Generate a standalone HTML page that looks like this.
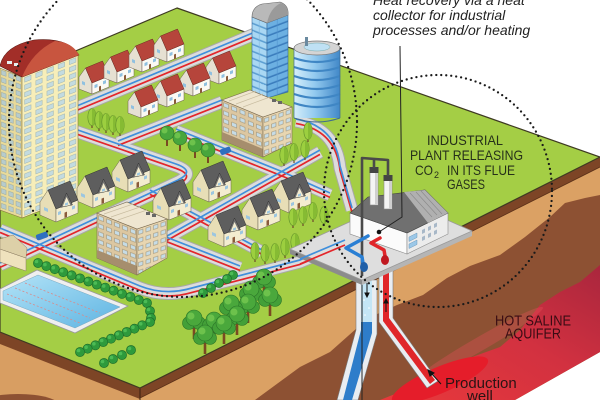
<!DOCTYPE html>
<html><head><meta charset="utf-8"><title>Geothermal</title>
<style>html,body{margin:0;padding:0;background:#fff;overflow:hidden}svg{display:block}</style>
</head><body>
<svg xmlns="http://www.w3.org/2000/svg" width="600" height="400" viewBox="0 0 600 400">
<defs>
<linearGradient id="aq" x1="0" y1="1" x2="1" y2="0">
<stop offset="0" stop-color="#e9393b"/><stop offset="0.55" stop-color="#d23140"/><stop offset="1" stop-color="#a9263d"/>
</linearGradient>
<linearGradient id="cyl" x1="0" y1="0" x2="1" y2="0">
<stop offset="0" stop-color="#d6eefa"/><stop offset="0.45" stop-color="#93caef"/><stop offset="1" stop-color="#4188c8"/>
</linearGradient>
<linearGradient id="pool" x1="0" y1="0" x2="1" y2="1">
<stop offset="0" stop-color="#b3e3f7"/><stop offset="1" stop-color="#5eb4e2"/>
</linearGradient>
<pattern id="winF" width="11.2" height="7.4" patternUnits="userSpaceOnUse" patternTransform="matrix(1,-0.39,0,1,22,77)">
<rect width="11.2" height="7.4" fill="#f7eeb9"/><rect x="2.6" y="1.6" width="6.4" height="4.6" fill="#c3dbe0" stroke="#8ea6a6" stroke-width="0.4"/>
</pattern>
<pattern id="winS" width="7.3" height="7.4" patternUnits="userSpaceOnUse" patternTransform="matrix(1,0.36,0,1,0,68)">
<rect width="7.3" height="7.4" fill="#e8da9a"/><rect x="1.4" y="1.6" width="4.6" height="4.6" fill="#b7cccc" stroke="#8a9c9c" stroke-width="0.4"/>
</pattern>
<pattern id="gtL" width="15" height="7" patternUnits="userSpaceOnUse" patternTransform="matrix(1,0.4,0,1,252,17)">
<rect width="15" height="7" fill="#a9d7f3"/><rect y="5.3" width="15" height="1.7" fill="#5d9fd2"/><rect x="7" width="0.6" height="7" fill="#7fb8e2"/>
</pattern>
<pattern id="gtR" width="21" height="7" patternUnits="userSpaceOnUse" patternTransform="matrix(1,-0.38,0,1,267,23)">
<rect width="21" height="7" fill="#6cb0e2"/><rect y="5.3" width="21" height="1.7" fill="#3b7dbd"/><rect x="10" width="0.6" height="7" fill="#4f92cf"/>
</pattern>
<pattern id="o1L" width="8.2" height="8" patternUnits="userSpaceOnUse" patternTransform="matrix(1,0.41,0,1,222,100)">
<rect width="8.2" height="8" fill="#dcc7a1"/><rect x="1.6" y="2" width="5" height="4" fill="#c6dce6" stroke="#8a7858" stroke-width="0.4"/>
</pattern>
<pattern id="o1R" width="7.2" height="8" patternUnits="userSpaceOnUse" patternTransform="matrix(1,-0.345,0,1,263,117)">
<rect width="7.2" height="8" fill="#e8d6b1"/><rect x="1.4" y="2" width="4.4" height="4" fill="#c6dce6" stroke="#8a7858" stroke-width="0.4"/>
</pattern>
<pattern id="o2L" width="8" height="8" patternUnits="userSpaceOnUse" patternTransform="matrix(1,0.4,0,1,97,213)">
<rect width="8" height="8" fill="#dcc7a1"/><rect x="1.5" y="2" width="5" height="4" fill="#c6dce6" stroke="#8a7858" stroke-width="0.4"/>
</pattern>
<pattern id="o2R" width="7.5" height="8" patternUnits="userSpaceOnUse" patternTransform="matrix(1,-0.333,0,1,137,229)">
<rect width="7.5" height="8" fill="#e8d6b1"/><rect x="1.4" y="2" width="4.6" height="4" fill="#c6dce6" stroke="#8a7858" stroke-width="0.4"/>
</pattern>

<path id="r1" d="M72,110 L255,34"/>
<path id="r2" d="M72,130 L176,166 Q196,173 178,182 L0,265"/>
<path id="r3" d="M0,230 L140,288 Q165,298 192,290 L300,262 L345,243"/>
<path id="r4" d="M118,143 L222,102"/>
<path id="r5" d="M160,242 L320,152"/>
<path id="r5b" d="M296,121 Q336,128 340,168 L352,210"/>
<path id="r6" d="M150,192 L262,252"/>
<path id="r7" d="M176,131 L283,174 L330,195"/>
<path id="r8" d="M138,228 L240,268"/>

<g id="rh">
<rect x="20" y="3" width="2.2" height="5" fill="#8a3a30"/>
<polygon points="0,17 6.5,8 13,23 13,34 0,29" fill="#e6e0d2" stroke="#6b5a50" stroke-width=".5"/>
<polygon points="13,23 30,16 30,27 13,34" fill="#fbf9f3" stroke="#6b5a50" stroke-width=".5"/>
<polygon points="6.5,8 23.5,1 30,16 13,23" fill="#b6453b" stroke="#6b2a22" stroke-width=".5"/>
<polygon points="15.5,25 18.5,23.8 18.5,27 15.5,28.2" fill="#8fc0e0"/>
<polygon points="24,21.2 27,20 27,23.2 24,24.4" fill="#8fc0e0"/>
<polygon points="20,26.5 22,25.7 22,30.5 20,31.3" fill="#8a5a3a"/>
<polygon points="3,21 6,22.3 6,25.5 3,24.2" fill="#8fc0e0"/>
</g>
<g id="gh">
<polygon points="0,20 8,8 16,27 16,40 0,33" fill="#e8deb6" stroke="#6a6450" stroke-width=".5"/>
<polygon points="16,27 38,18 38,31 16,40" fill="#f3ecd0" stroke="#6a6450" stroke-width=".5"/>
<polygon points="8,8 30,-1 38,18 16,27" fill="#5e5e5e" stroke="#333" stroke-width=".5"/>
<polygon points="20.5,25.4 26.5,11 32.5,22.9" fill="#6e6e6e" stroke="#333" stroke-width=".5"/>
<polygon points="22.5,24.6 26.5,15 30.5,23.1" fill="#f3ecd0"/>
<polygon points="25,21.4 28,20.2 28,22.6 25,23.8" fill="#9cc6e0"/>
<polygon points="18,30 21,28.8 21,32 18,33.2" fill="#9cc6e0"/>
<polygon points="32,24.4 35,23.2 35,26.4 32,27.6" fill="#9cc6e0"/>
<polygon points="4,25 8,26.7 8,30 4,28.3" fill="#9cc6e0"/>
<polygon points="24.5,30.6 27,29.6 27,35 24.5,36" fill="#8a5a3a"/>
</g>
<g id="ct"><line x1="0" y1="0" x2="0" y2="-4" stroke="#6b4a2a" stroke-width="1.2"/><ellipse cx="0" cy="-11" rx="4.2" ry="8.5" fill="#9ccf3f" stroke="#5f8f2a" stroke-width=".6"/><path d="M0,-19.5 A4.2,8.5 0 0 1 0,-2.5 Z" fill="#86bb33"/></g>
<g id="rt"><rect x="-1" y="-8" width="2" height="8" fill="#7a4a22"/><circle cx="0" cy="-13" r="7" fill="#48a63c" stroke="#2a7428" stroke-width=".6"/><circle cx="-2.5" cy="-15.5" r="3" fill="#6dc24c"/></g>
<g id="bt"><rect x="-1.3" y="-12" width="2.6" height="12" fill="#7a4a22"/><circle cx="-5" cy="-16" r="6.5" fill="#43a038" stroke="#2a7428" stroke-width=".6"/><circle cx="5" cy="-16" r="6.5" fill="#43a038" stroke="#2a7428" stroke-width=".6"/><circle cx="0" cy="-21" r="8" fill="#4aa83c" stroke="#2a7428" stroke-width=".6"/><circle cx="-3" cy="-23" r="3.5" fill="#6dc24c"/></g>
<g id="bu"><circle r="4.6" fill="#2e9a3c" stroke="#1c6a2a" stroke-width=".6"/><circle cx="-1.5" cy="-1.5" r="1.8" fill="#4cbb55"/></g>
</defs>

<rect width="600" height="400" fill="#ffffff"/>

<!-- soil: left face -->
<polygon points="0,332 140,388 140,400 0,400" fill="#d89e62"/>
<ellipse cx="18" cy="406" rx="42" ry="12" fill="#8d5133"/>
<polygon points="0,332 140,388 140,399 0,344" fill="#7d4526"/>
<!-- soil: right face -->
<polygon points="140,388 600,157 600,352 515,400 140,400" fill="#dba164"/>
<polygon points="255,400 300,367 330,352 357,328 375,315 397,305 423,295 447,278 470,266 500,255 525,237 550,217 565,203 585,198 600,195 600,352 515,400" fill="#8d5133"/>
<polygon points="380,400 400,392 422,382 445,368 475,356 500,347 520,330 540,305 560,292 580,282 600,265 600,352 515,400" fill="url(#aq)"/>
<ellipse cx="478" cy="345" rx="75" ry="7" transform="rotate(-30 478 345)" fill="#e8505a" opacity=".35"/>
<ellipse cx="440" cy="380" rx="52" ry="13" transform="rotate(-23 440 380)" fill="#e51d2a"/>
<polygon points="140,388 600,157 600,167 140,398" fill="#7d4526"/>
<line x1="140" y1="388" x2="140" y2="400" stroke="#3a2010" stroke-width="1"/>
<line x1="140" y1="398" x2="600" y2="167" stroke="#5a3018" stroke-width=".8"/>

<!-- green top -->
<polygon points="0,83 177,8 600,157 140,388 0,332" fill="#a4ce45" stroke="#3e3a22" stroke-width="1.2" stroke-linejoin="round"/>

<!-- roads -->
<g fill="none" stroke-linejoin="round">
<g stroke="#a8a8a8" stroke-width="13"><use href="#r1"/><use href="#r2"/><use href="#r3"/><use href="#r4"/><use href="#r5"/><use href="#r5b"/><use href="#r6"/><use href="#r7"/><use href="#r8"/></g>
<g stroke="#dcdcdc" stroke-width="11"><use href="#r1"/><use href="#r2"/><use href="#r3"/><use href="#r4"/><use href="#r5"/><use href="#r5b"/><use href="#r6"/><use href="#r7"/><use href="#r8"/></g>
<g stroke="#e3262b" stroke-width="1.7" transform="translate(0,2.4)"><use href="#r1"/><use href="#r2"/><use href="#r3"/><use href="#r4"/><use href="#r5"/><use href="#r5b"/><use href="#r6"/><use href="#r7"/><use href="#r8"/></g>
<g stroke="#3f8fdc" stroke-width="1.7" transform="translate(0,-2)"><use href="#r1"/><use href="#r2"/><use href="#r3"/><use href="#r4"/><use href="#r5"/><use href="#r5b"/><use href="#r6"/><use href="#r7"/><use href="#r8"/></g>
</g>

<!-- pool -->
<polygon points="0,289 37,270 128,306 75,333 0,303" fill="#efefef" stroke="#9a9a9a" stroke-width=".8"/>
<polygon points="3,291 38,275 120,307 75,328 3,300" fill="url(#pool)" stroke="#7aa8c0" stroke-width=".5"/>
<g stroke="#d98a8a" stroke-width=".8" stroke-dasharray="2 2">
<line x1="25" y1="283" x2="100" y2="313"/><line x1="15" y1="288" x2="90" y2="318"/><line x1="7" y1="294" x2="80" y2="323"/>
</g>

<!-- red roof houses -->
<use href="#rh" x="79" y="60"/><use href="#rh" x="104" y="49"/><use href="#rh" x="129" y="38"/><use href="#rh" x="154" y="28"/>
<use href="#rh" x="206" y="50"/><use href="#rh" x="180" y="62"/><use href="#rh" x="154" y="73"/><use href="#rh" x="128" y="84"/>

<!-- glass tower -->
<polygon points="252,17 267,23 267,98 252,92" fill="url(#gtL)" stroke="#3a6a9a" stroke-width=".6"/>
<polygon points="267,23 288,15 288,92 267,98" fill="url(#gtR)" stroke="#3a6a9a" stroke-width=".6"/>
<path d="M252,17 Q252,7 262,4 L280,2 Q289,5 288,15 L267,23 Z" fill="#b9b9b9" stroke="#666" stroke-width=".6"/>
<path d="M267,23 L288,15 Q289,6 281,3 Q270,8 267,23 Z" fill="#9a9a9a"/>

<!-- cylinder -->
<rect x="294" y="48" width="46" height="70" fill="url(#cyl)"/>
<g fill="none" stroke="#3f86c4" stroke-width="2.2">
<path d="M294,58 Q317,66 340,58"/><path d="M294,67 Q317,75 340,67"/><path d="M294,76 Q317,84 340,76"/><path d="M294,85 Q317,93 340,85"/><path d="M294,94 Q317,102 340,94"/><path d="M294,103 Q317,111 340,103"/>
</g>
<path d="M294,118 Q317,126 340,118" fill="none" stroke="#3f6a90" stroke-width="1"/>
<line x1="294" y1="48" x2="294" y2="118" stroke="#3f6a90" stroke-width=".7"/><line x1="340" y1="48" x2="340" y2="118" stroke="#3f6a90" stroke-width=".7"/>
<ellipse cx="317" cy="48" rx="23" ry="7" fill="#d4d4d4" stroke="#777" stroke-width=".7"/>
<ellipse cx="317" cy="47" rx="13" ry="4" fill="#bfe1f4" stroke="#7aa" stroke-width=".5"/>
<rect x="305" y="37" width="3" height="9" fill="#6a8aa0"/>

<!-- cone tree row -->
<use href="#ct" x="92" y="128"/><use href="#ct" x="99" y="131"/><use href="#ct" x="106" y="133"/><use href="#ct" x="113" y="135"/><use href="#ct" x="120" y="136"/>

<!-- office 1 -->
<polygon points="222,100 263,117 263,157 222,140" fill="url(#o1L)" stroke="#7a6a50" stroke-width=".6"/>
<polygon points="222,132 263,149 263,157 222,140" fill="#a68e6d"/>
<polygon points="263,117 292,107 292,143 263,157" fill="url(#o1R)" stroke="#7a6a50" stroke-width=".6"/>
<polygon points="222,100 250,90 292,107 263,117" fill="#efe6d0" stroke="#7a6a50" stroke-width=".6"/>
<g stroke="#c8bca0" stroke-width=".7"><line x1="229" y1="101" x2="256" y2="91"/><line x1="236" y1="104" x2="263" y2="94"/><line x1="243" y1="107" x2="270" y2="97"/></g>
<rect x="272" y="99" width="4" height="3" fill="#666"/><rect x="278" y="101" width="4" height="3" fill="#666"/>
<use href="#rt" x="167" y="146"/><use href="#rt" x="180" y="151"/><use href="#rt" x="195" y="158"/><use href="#rt" x="208" y="163"/>
<use href="#ct" x="284" y="166"/><use href="#ct" x="294" y="163"/><use href="#ct" x="305" y="160"/>
<use href="#ct" x="308" y="142"/>
<!-- car -->
<rect x="220" y="148" width="11" height="6" rx="2" fill="#2e6fc0" transform="rotate(-20 225 151)"/>

<!-- apartment building -->
<polygon points="0,68 22,77 22,218 0,210" fill="url(#winS)" stroke="#8a7a40" stroke-width=".6"/>
<polygon points="22,77 78,55 78,196 22,218" fill="url(#winF)" stroke="#8a7a40" stroke-width=".6"/>
<path d="M0,66 Q4,46 34,40 Q68,37 79,55 L22,77 Z" fill="#a22e28" stroke="#5a1a14" stroke-width=".6"/>
<path d="M22,77 L79,55 Q72,42 55,41 Q32,52 22,77 Z" fill="#c8553f"/>
<rect x="7" y="61" width="5" height="3" fill="#e6eef0"/><rect x="14" y="63" width="4" height="3" fill="#e6eef0"/>

<!-- grey houses -->
<use href="#gh" x="112" y="152"/><use href="#gh" x="193" y="162"/><use href="#gh" x="77" y="168"/><use href="#gh" x="273" y="173"/>
<use href="#gh" x="153" y="180"/><use href="#gh" x="40" y="182"/><use href="#gh" x="242" y="190"/><use href="#gh" x="208" y="207"/>

<!-- office 2 -->
<polygon points="97,213 137,229 137,275 97,258" fill="url(#o2L)" stroke="#7a6a50" stroke-width=".6"/>
<polygon points="97,250 137,266 137,275 97,258" fill="#a68e6d"/>
<polygon points="137,229 167,219 167,258 137,275" fill="url(#o2R)" stroke="#7a6a50" stroke-width=".6"/>
<polygon points="97,213 127,202 167,219 137,229" fill="#efe6d0" stroke="#7a6a50" stroke-width=".6"/>
<g stroke="#c8bca0" stroke-width=".7"><line x1="104" y1="214" x2="133" y2="204"/><line x1="111" y1="217" x2="140" y2="207"/><line x1="118" y1="220" x2="147" y2="210"/></g>
<rect x="146" y="212" width="4" height="3" fill="#666"/><rect x="152" y="214" width="4" height="3" fill="#666"/>

<!-- small left building -->
<polygon points="0,249 26,258 26,271 0,262" fill="#efe2bd" stroke="#8a7a60" stroke-width=".5"/>
<polygon points="0,239 13,235 27,248 26,258 0,249" fill="#ddd0a8" stroke="#8a7a60" stroke-width=".5"/>
<rect x="36" y="233" width="12" height="6" rx="2" fill="#2e6fc0" transform="rotate(-20 42 236)"/>

<!-- cone trees near factory -->
<use href="#ct" x="255" y="262"/><use href="#ct" x="265" y="264"/><use href="#ct" x="275" y="263"/><use href="#ct" x="285" y="258"/><use href="#ct" x="295" y="253"/>
<use href="#ct" x="293" y="228"/><use href="#ct" x="303" y="226"/><use href="#ct" x="313" y="222"/><use href="#ct" x="324" y="226"/>

<!-- bushes -->
<g>
<use href="#bu" x="38" y="263"/><use href="#bu" x="46.4" y="266.1"/><use href="#bu" x="54.8" y="269.2"/><use href="#bu" x="63.2" y="272.2"/><use href="#bu" x="71.6" y="275.3"/><use href="#bu" x="80" y="278.4"/><use href="#bu" x="88.4" y="281.5"/><use href="#bu" x="96.8" y="284.6"/><use href="#bu" x="105.2" y="287.6"/><use href="#bu" x="113.6" y="290.7"/><use href="#bu" x="122" y="293.8"/><use href="#bu" x="130.4" y="296.9"/><use href="#bu" x="138.8" y="300"/><use href="#bu" x="147" y="303"/>
<use href="#bu" x="150" y="311"/><use href="#bu" x="151" y="318"/>
<use href="#bu" x="150" y="322"/><use href="#bu" x="142.2" y="325.3"/><use href="#bu" x="134.4" y="328.7"/><use href="#bu" x="126.6" y="332"/><use href="#bu" x="118.8" y="335.3"/><use href="#bu" x="111" y="338.7"/><use href="#bu" x="103.2" y="342"/><use href="#bu" x="95.4" y="345.3"/><use href="#bu" x="87.6" y="348.7"/><use href="#bu" x="80" y="352"/>
<use href="#bu" x="131" y="350"/><use href="#bu" x="122" y="355"/><use href="#bu" x="113" y="359"/><use href="#bu" x="104" y="363"/>
<use href="#bu" x="233" y="275"/><use href="#bu" x="227" y="279"/><use href="#bu" x="219" y="283"/><use href="#bu" x="211" y="288"/><use href="#bu" x="203" y="293"/>
</g>

<!-- big trees -->
<use href="#bt" x="264" y="298"/><use href="#bt" x="251" y="310"/><use href="#bt" x="270" y="316"/><use href="#bt" x="248" y="323"/><use href="#bt" x="231" y="324"/>
<use href="#bt" x="237" y="335"/><use href="#bt" x="194" y="339"/><use href="#bt" x="214" y="341"/><use href="#bt" x="224" y="344"/><use href="#bt" x="205" y="354"/>

<!-- wells -->
<path d="M356,280 L356,330 L337,400 L358,400 L377,334 L377,280 Z" fill="#e9edf1" stroke="#7a7a7a" stroke-width=".6"/>
<path d="M361,280 L361,330 L343,400 L352,400 L372,333 L372,280 Z" fill="#2e7dca"/>
<polygon points="361,280 372,280 372,322 361,322" fill="#c4e6f6"/>
<g fill="#fff"><circle cx="364" cy="300" r=".8"/><circle cx="369" cy="308" r=".8"/><circle cx="365" cy="315" r=".8"/><circle cx="369" cy="292" r=".8"/></g>
<path d="M379,262 L379,322 L427,388 L438,381 L393,318 L393,262 Z" fill="#e9edf1" stroke="#7a7a7a" stroke-width=".6"/>
<path d="M383,262 L383,321 L430,384 L435,380 L389,318 L389,262 Z" fill="#e0262a"/>
<line x1="362" y1="278" x2="362" y2="400" stroke="#222" stroke-width="1"/>
<g stroke="#111" stroke-width="1" fill="#111">
<line x1="367" y1="283" x2="367" y2="294"/><polygon points="365,293 369,293 367,297"/>
<line x1="386" y1="312" x2="386" y2="302"/><polygon points="384,303 388,303 386,299"/>
<line x1="441" y1="384" x2="431" y2="373"/><polygon points="428,370 434,373 430,376"/>
</g>

<!-- platform -->
<polygon points="290,249 362,280 362,285 290,254" fill="#8c8c8c"/>
<polygon points="362,280 472,231 472,236 362,285" fill="#b5b5b5"/>
<polygon points="290,249 362,280 472,231 400,199" fill="#dedede" stroke="#9a9a9a" stroke-width=".8"/>
<g fill="none" stroke-width="1.7"><path d="M300,264 L345,245" stroke="#e3262b"/><path d="M300,259 L345,240" stroke="#3f8fdc"/></g>

<!-- factory -->
<polygon points="350,213 407,233 407,254 350,234" fill="#fbfbfb" stroke="#8a8a8a" stroke-width=".6"/>
<polygon points="407,233 448,213 448,234 407,254" fill="#ececec" stroke="#8a8a8a" stroke-width=".6"/>
<polygon points="350,213 368,197 425,190 448,213 407,233" fill="#707070" stroke="#444" stroke-width=".6"/>
<polygon points="404,192 425,190 448,213 428,223" fill="#b0b0b0"/>
<g stroke="#8a8a8a" stroke-width=".6"><line x1="410" y1="193" x2="432" y2="217"/><line x1="416" y1="192" x2="437" y2="215"/><line x1="421" y1="191" x2="442" y2="214"/></g>
<polygon points="409,237 417,233 417,237.5 409,241.5" fill="#9cc8e8" stroke="#5a8ab0" stroke-width=".4"/>
<polygon points="409,244 417,240 417,244.5 409,248.5" fill="#9cc8e8" stroke="#5a8ab0" stroke-width=".4"/>
<g fill="#a8b8c8"><polygon points="422,230 425,228.5 425,232.5 422,234"/><polygon points="428,227 431,225.5 431,229.5 428,231"/><polygon points="434,224 437,222.5 437,226.5 434,228"/><polygon points="422,237 425,235.5 425,239.5 422,241"/><polygon points="428,234 431,232.5 431,236.5 428,238"/><polygon points="434,231 437,229.5 437,233.5 434,235"/></g>
<!-- chimneys -->
<rect x="370" y="171" width="8" height="34" fill="#f4f4f4" stroke="#888" stroke-width=".6"/>
<rect x="375" y="171" width="3" height="34" fill="#cfcfcf"/>
<rect x="369.5" y="167" width="9" height="6" fill="#444"/>
<rect x="384" y="179" width="8" height="30" fill="#f4f4f4" stroke="#888" stroke-width=".6"/>
<rect x="389" y="179" width="3" height="30" fill="#cfcfcf"/>
<rect x="383.5" y="175" width="9" height="6" fill="#444"/>
<g fill="none" stroke="#4a4a4a" stroke-width="2.6" stroke-linejoin="round"><path d="M362,276 L362,158 L388,160 L388,176"/><path d="M374,158.5 L374,168"/></g>
<!-- platform pipes -->
<g fill="none" stroke-width="3.5" stroke-linejoin="round" stroke-linecap="round">
<path d="M368,236 L346,248 L362,257 L363,263" stroke="#2a7fd4"/>
<path d="M380,238 L371,243 L384,250 L385,256" stroke="#e0262a"/>
</g>
<ellipse cx="364" cy="267" rx="4" ry="5" fill="#1f5fa8"/>
<ellipse cx="385" cy="260" rx="4" ry="5" fill="#c01820"/>

<!-- dotted circles -->
<g fill="none" stroke="#1a1a1a" stroke-width="2.3" stroke-linecap="round" stroke-dasharray="0 5">
<ellipse cx="183" cy="122" rx="174" ry="175"/>
<ellipse cx="438" cy="191" rx="114" ry="116"/>
</g>

<!-- label leader -->
<path d="M400,46 L402,217 L379,232" fill="none" stroke="#222" stroke-width="1"/>
<circle cx="379" cy="232" r="2.3" fill="#111"/>

<!-- texts -->
<text font-family="Liberation Sans, sans-serif" font-style="italic" font-size="14" fill="#222">
<tspan x="373" y="5">Heat recovery via a heat</tspan>
<tspan x="373" y="20">collector for industrial</tspan>
<tspan x="373" y="35">processes and/or heating</tspan>
</text>
<g font-family="Liberation Sans, sans-serif" font-size="14" fill="#26301a">
<text x="427" y="145" textLength="76" lengthAdjust="spacingAndGlyphs">INDUSTRIAL</text>
<text x="410" y="160" textLength="113" lengthAdjust="spacingAndGlyphs">PLANT RELEASING</text>
<text x="415" y="175" textLength="18" lengthAdjust="spacingAndGlyphs">CO</text>
<text x="434" y="178" font-size="9">2</text>
<text x="447" y="175" textLength="68" lengthAdjust="spacingAndGlyphs">IN ITS FLUE</text>
<text x="447" y="189" textLength="38" lengthAdjust="spacingAndGlyphs">GASES</text>
</g>
<g font-family="Liberation Sans, sans-serif" font-size="14.5" fill="#3a0c14">
<text x="495" y="325.5" textLength="76" lengthAdjust="spacingAndGlyphs">HOT SALINE</text>
<text x="505" y="338.5" textLength="56" lengthAdjust="spacingAndGlyphs">AQUIFER</text>
</g>
<g font-family="Liberation Sans, sans-serif" font-size="15" fill="#2a1414">
<text x="445" y="388">Production</text>
<text x="467" y="401">well</text>
</g>
</svg>
</body></html>
